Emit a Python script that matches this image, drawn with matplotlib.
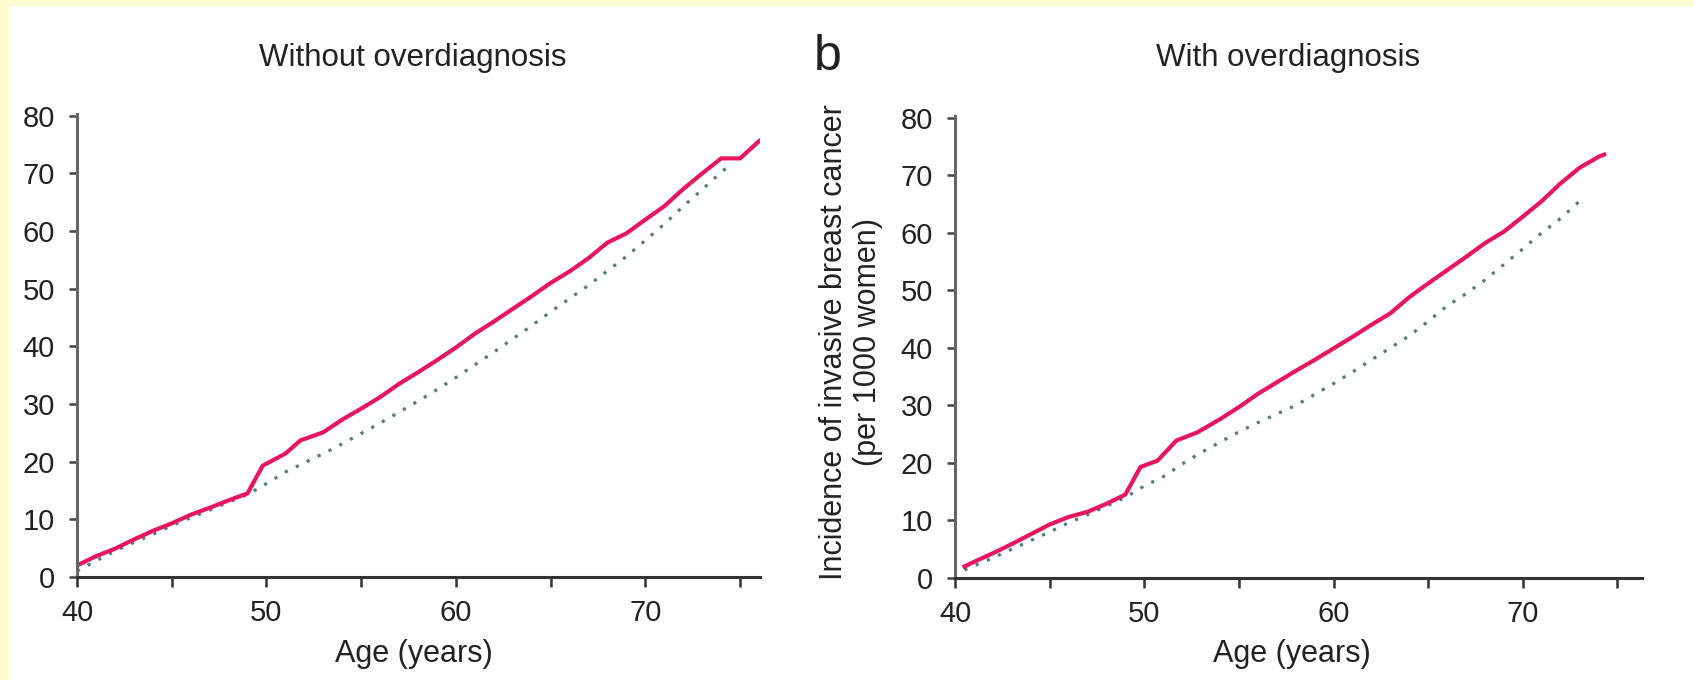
import numpy as np
import matplotlib.pyplot as plt
from matplotlib.patches import Rectangle

plt.rcParams['font.family'] = ['Liberation Sans', 'DejaVu Sans']

# panel a: without overdiagnosis
age_a_obs = [40, 41, 42, 43, 44, 45, 46, 47, 48, 49, 49.8, 51, 51.8, 53, 54, 55, 56, 57, 58, 59,
             60, 61, 62, 63, 64, 65, 66, 67, 68, 69, 70, 71, 72, 73, 74, 75, 76]
inc_a_obs = [2.0, 3.6, 4.9, 6.5, 8.0, 9.3, 10.8, 12.0, 13.3, 14.5, 19.3, 21.4, 23.7, 25.1, 27.3, 29.2,
             31.2, 33.5, 35.5, 37.6, 39.8, 42.2, 44.3, 46.5, 48.7, 51.0, 53.0, 55.3, 58.0, 59.6, 62.0,
             64.3, 67.3, 70.0, 72.6, 72.6, 75.6]
age_a_exp = [40, 41, 42, 43, 44, 45, 46, 47, 48, 49, 50, 51, 52, 53, 54, 55, 56, 57, 58, 59,
             60, 61, 62, 63, 64, 65, 66, 67, 68, 69, 70, 71, 72, 73, 74, 74.6]
inc_a_exp = [1.0, 2.8, 4.5, 6.0, 7.4, 8.9, 10.3, 11.6, 13.0, 14.3, 16.2, 18.2, 19.8, 21.4, 23.1, 24.9,
             26.7, 28.6, 30.5, 32.5, 34.6, 36.8, 39.0, 41.3, 43.6, 46.0, 48.3, 50.6, 53.1, 55.6, 58.4,
             61.2, 64.3, 67.2, 70.2, 71.8]

# panel b: with overdiagnosis
age_b_obs = [40.5, 41, 42, 43, 44, 45, 46, 47, 48, 49, 49.8, 50.7, 51.7, 52.8, 54, 55, 56, 57, 58, 59,
             60, 61, 62, 63, 64, 65, 66, 67, 68, 69, 70, 71, 72, 73, 74, 74.3]
inc_b_obs = [2.0, 2.8, 4.3, 5.9, 7.6, 9.3, 10.6, 11.5, 12.9, 14.5, 19.3, 20.4, 23.9, 25.3, 27.6, 29.7,
             32.0, 34.0, 36.0, 37.9, 39.9, 41.9, 44.0, 46.0, 48.8, 51.2, 53.5, 55.8, 58.2, 60.2, 62.8,
             65.5, 68.6, 71.3, 73.2, 73.6]
age_b_exp = [40.5, 41, 42, 43, 44, 45, 46, 47, 48, 49, 50, 51, 52, 53, 54, 55, 56, 57, 58, 59,
             60, 61, 62, 63, 64, 65, 66, 67, 68, 69, 70, 71, 72, 73, 73.2]
inc_b_exp = [1.4, 2.1, 3.5, 5.0, 6.5, 8.0, 9.6, 11.0, 12.5, 14.0, 16.0, 17.6, 19.8, 21.8, 23.6, 25.4,
             27.0, 28.5, 30.0, 31.9, 33.8, 35.8, 37.9, 40.0, 42.1, 44.6, 47.3, 49.4, 51.8, 54.5, 57.2,
             60.0, 62.5, 65.5, 66.2]

yticks = [0, 10, 20, 30, 40, 50, 60, 70, 80]
xticks = [40, 50, 60, 70]
xticks_minor = [45, 55, 65, 75]

W, H = 1694, 680
fig = plt.figure(figsize=(W / 100, H / 100), dpi=100)
fig.patch.set_facecolor('white')

# pale yellow frame at top and left
fig.patches.append(Rectangle((0, 1 - 5 / H), 1, 5 / H, transform=fig.transFigure,
                             color='#FEFBD3', zorder=0))
fig.patches.append(Rectangle((0, 0), 8 / W, 1, transform=fig.transFigure,
                             color='#FEFBD3', zorder=0))

red = '#E8175D'
green = '#4F8070'
dark = '#222222'


def setup(ax, xmax):
    ax.set_xlim(40, xmax)
    ax.set_ylim(0, 80.3)
    ax.set_yticks(yticks)
    ax.set_xticks(xticks)
    ax.set_xticks(xticks_minor, minor=True)
    for s in ['top', 'right']:
        ax.spines[s].set_visible(False)
    ax.spines['left'].set_color('#666666')
    ax.spines['bottom'].set_color('#333333')
    ax.spines['left'].set_linewidth(2.2)
    ax.spines['bottom'].set_linewidth(2.2)
    ax.tick_params(axis='y', length=6, width=1.8, color='#444444', pad=10,
                   labelsize=21, labelcolor=dark)
    ax.tick_params(axis='x', which='both', length=7, width=1.8, color='#333333', pad=9,
                   labelsize=21, labelcolor=dark)
    ax.set_facecolor('none')


ax1 = fig.add_axes([77 / W, 1 - 577 / H, (760 - 77) / W, (577 - 114) / H])
setup(ax1, 76.05)
ax1.plot(age_a_exp, inc_a_exp, color=green, lw=2.3, linestyle=(0, (1.0, 2.8)))
ax1.plot(age_a_obs, inc_a_obs, color=red, lw=3.0)

ax2 = fig.add_axes([955 / W, 1 - 578 / H, (1642 - 955) / W, (578 - 116) / H])
setup(ax2, 76.3)
ax2.plot(age_b_exp, inc_b_exp, color=green, lw=2.3, linestyle=(0, (1.0, 2.8)))
ax2.plot(age_b_obs, inc_b_obs, color=red, lw=3.0)

fig.text(413 / W, 1 - 58 / H, 'Without overdiagnosis', ha='center', va='center',
         fontsize=22.5, color=dark)
fig.text(1288 / W, 1 - 58 / H, 'With overdiagnosis', ha='center', va='center',
         fontsize=22.5, color=dark)
fig.text(414 / W, 1 - 654 / H, 'Age (years)', ha='center', va='center',
         fontsize=22, color=dark)
fig.text(1292 / W, 1 - 654 / H, 'Age (years)', ha='center', va='center',
         fontsize=22, color=dark)
fig.text(828 / W, 1 - 70 / H, 'b', ha='center', va='baseline', fontsize=36, color=dark)
fig.text(851 / W, 1 - 342 / H, 'Incidence of invasive breast cancer\n(per 1000 women)',
         ha='center', va='center', rotation=90, multialignment='center',
         fontsize=22, color=dark, linespacing=1.2)

fig.savefig('out.png', dpi=100)
